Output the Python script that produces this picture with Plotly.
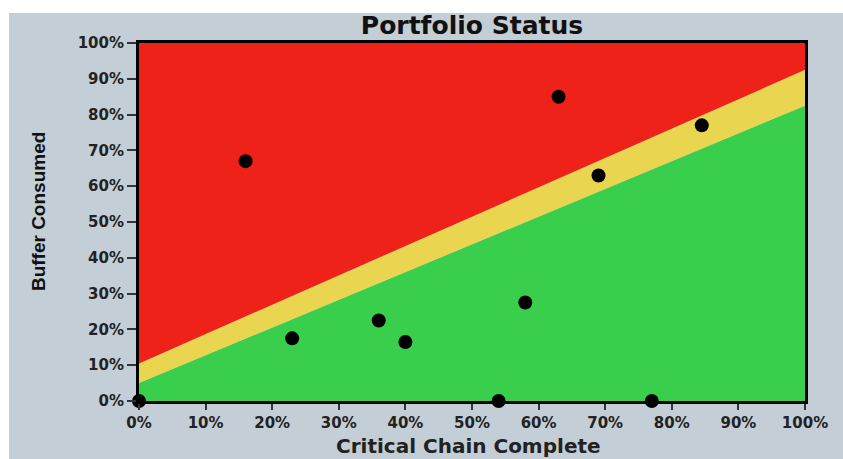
import plotly.graph_objects as go

# Project positions: critical chain complete (%) vs buffer consumed (%)
chain_complete = [0, 16, 23, 36, 40, 54, 58, 63, 69, 77, 84.5]
buffer_consumed = [0, 67, 17.5, 22.5, 16.5, 0, 27.5, 85, 63, 0, 77]

# Zone boundaries at 0% and 100% chain complete
zone_x = [0, 100]
green_top = [5, 82.5]
yellow_top = [10.5, 92.5]
axis_top = [100, 100]
axis_bottom = [0, 0]

tick_vals = list(range(0, 101, 10))
tick_text = [f"{v}%" for v in tick_vals]

RED = "#ee2219"
YELLOW = "#e9d54f"
GREEN = "#39cf4d"
BG = "#c4ced6"
FONT = "DejaVu Sans"

def band(lower, upper, color):
    xs = zone_x + zone_x[::-1]
    ys = lower + upper[::-1]
    return go.Scatter(x=xs, y=ys, fill="toself", fillcolor=color, mode="none",
                      hoverinfo="skip", showlegend=False)

fig = go.Figure()
fig.add_trace(band(axis_bottom, green_top, GREEN))
fig.add_trace(band(green_top, yellow_top, YELLOW))
fig.add_trace(band(yellow_top, axis_top, RED))
fig.add_trace(go.Scatter(
    x=chain_complete, y=buffer_consumed, mode="markers",
    marker=dict(color="black", size=14, symbol="circle"),
    cliponaxis=False, showlegend=False,
))

axis_common = dict(
    range=[0, 100], tickvals=tick_vals, ticktext=tick_text,
    showgrid=False, zeroline=False, automargin=False,
    showline=True, linecolor="black", linewidth=3, mirror=True,
    ticks="outside", tickwidth=2, tickcolor="#333333",
    tickfont=dict(family=FONT, size=15, color="#222222", weight="bold"),
)
fig.update_xaxes(**axis_common, ticklen=6)
fig.update_yaxes(**axis_common, ticklen=9)

# Axis titles
fig.add_annotation(text="Critical Chain Complete", xref="paper", yref="paper",
                   x=0.494, y=-0.1257, xanchor="center", yanchor="middle", showarrow=False,
                   font=dict(family=FONT, size=20, color="#222222", weight="bold"))
fig.add_annotation(text="Buffer Consumed", xref="paper", yref="paper",
                   x=-0.150, y=0.528, xanchor="center", yanchor="middle", showarrow=False,
                   textangle=-90,
                   font=dict(family="Liberation Sans", size=19, color="#111111", weight="bold"))

# White page edge along the top and left
fig.add_shape(type="rect", xref="paper", yref="paper", x0=-0.3, x1=1.2, y0=1.0838, y1=1.3,
              fillcolor="white", line_width=0, layer="below")
fig.add_shape(type="rect", xref="paper", yref="paper", x0=-0.3, x1=-0.1952, y0=-0.3, y1=1.3,
              fillcolor="white", line_width=0, layer="below")

fig.update_layout(
    width=843, height=459,
    margin=dict(l=139, r=38, t=43, b=58),
    paper_bgcolor=BG, plot_bgcolor=BG,
    title=dict(text="Portfolio Status", x=0.5, xref="paper", xanchor="center",
               y=0.945, yanchor="middle",
               font=dict(family=FONT, size=25, color="#111111", weight="bold")),
)

fig.write_html("out.html")
